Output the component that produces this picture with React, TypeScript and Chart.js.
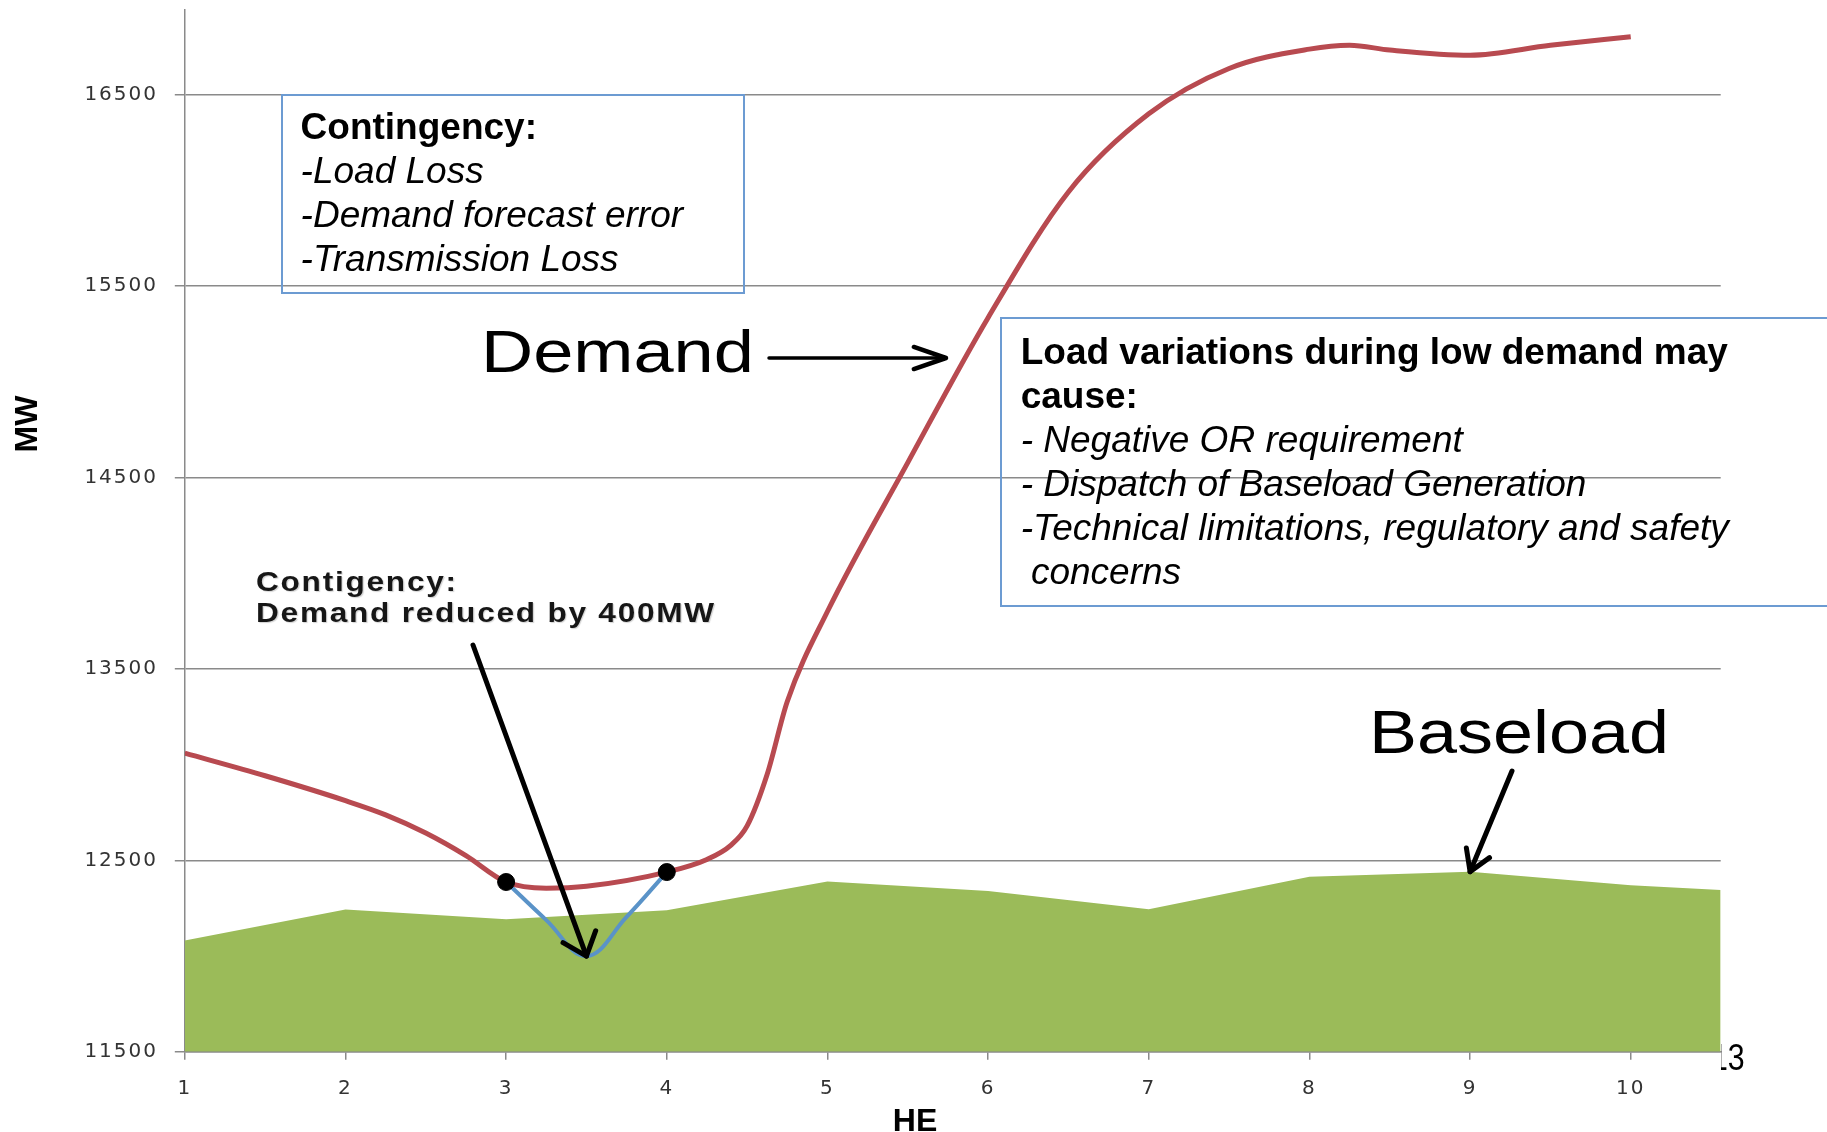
import React, { useEffect, useRef } from "react";
import { Chart, registerables } from "chart.js";

Chart.register(...registerables);

// ---- data ----
const hourTicks = [1, 2, 3, 4, 5, 6, 7, 8, 9, 10];
const mwTicks = [11500, 12500, 13500, 14500, 15500, 16500];

const demandHours = [1, 1.5, 2, 2.25, 2.5, 2.75, 3, 3.25, 3.5, 4, 4.25, 4.4, 4.5, 4.625, 4.75, 5, 5.5, 6, 6.5, 7, 7.5, 8, 8.25, 8.5, 9, 9.5, 10];
const demandMW = [13060, 12942, 12812, 12738, 12643, 12525, 12387, 12355, 12365, 12439, 12505, 12580, 12680, 12950, 13330, 13800, 14578, 15335, 15992, 16400, 16637, 16738, 16758, 16733, 16706, 16758, 16803];

const contingencyHours = [3, 3.25, 3.5, 3.75, 4];
const contingencyMW = [12387, 12188, 12000, 12205, 12439];

const baseloadHours = [1, 2, 3, 4, 5, 6, 7, 8, 9, 10, 10.56];
const baseloadMW = [12081, 12243, 12193, 12240, 12390, 12340, 12245, 12415, 12440, 12370, 12345];

const markerHours = [3, 4];
const markerMW = [12387, 12439];

const X_MIN = 1;
const X_MAX = 10.56;
const Y_MIN = 11500;
const Y_MAX = 16945;

const toPts = (xs: number[], ys: number[]) => xs.map((x, i) => ({ x, y: ys[i] }));

const GRID = "#8a8a8a";
const SANS = "'Liberation Sans', Arial, sans-serif";
const TICK_FONT = "'DejaVu Sans', Verdana, sans-serif";

function drawArrow(ctx: CanvasRenderingContext2D, x0: number, y0: number, x1: number, y1: number, w: number, headLen: number, headAng: number, headW?: number) {
  ctx.save();
  ctx.strokeStyle = "#000";
  ctx.lineCap = "round";
  ctx.lineJoin = "round";
  ctx.lineWidth = w;
  ctx.beginPath();
  ctx.moveTo(x0, y0);
  ctx.lineTo(x1, y1);
  ctx.stroke();
  const a = Math.atan2(y1 - y0, x1 - x0);
  ctx.lineWidth = headW || w;
  ctx.beginPath();
  ctx.moveTo(x1 - headLen * Math.cos(a - headAng), y1 - headLen * Math.sin(a - headAng));
  ctx.lineTo(x1, y1);
  ctx.lineTo(x1 - headLen * Math.cos(a + headAng), y1 - headLen * Math.sin(a + headAng));
  ctx.stroke();
  ctx.restore();
}

const arrowPlugin = {
  id: "annotArrows",
  afterDatasetsDraw(chart: any) {
    const { ctx } = chart;
    const xs = chart.scales.x;
    const ys = chart.scales.y;
    drawArrow(ctx, 473, 645, xs.getPixelForValue(3.5), ys.getPixelForValue(12000), 5, 27, 0.7);
    drawArrow(ctx, 769, 358, 946, 358, 3.5, 34, 0.33, 4.5);
    drawArrow(ctx, 1512, 771, xs.getPixelForValue(9), ys.getPixelForValue(12441), 5, 24, 0.55);
  },
};

const spacingPlugin = {
  id: "tickSpacing",
  beforeDraw(chart: any) {
    (chart.ctx as any).letterSpacing = "2px";
  },
  beforeDatasetsDraw(chart: any) {
    (chart.ctx as any).letterSpacing = "0px";
  },
};

const abs = (s: React.CSSProperties): React.CSSProperties => ({ position: "absolute", margin: 0, whiteSpace: "pre", ...s });

export default function App() {
  const ref = useRef<HTMLCanvasElement | null>(null);

  useEffect(() => {
    if (!ref.current) return;
    const chart = new Chart(ref.current, {
      type: "line",
      data: {
        datasets: [
          {
            label: "Markers",
            data: toPts(markerHours, markerMW),
            showLine: false,
            pointRadius: 8.5,
            pointBackgroundColor: "#000",
            pointBorderColor: "#000",
            order: 1,
          },
          {
            label: "Demand",
            data: toPts(demandHours, demandMW),
            borderColor: "#b84a50",
            borderWidth: 5,
            pointRadius: 0,
            cubicInterpolationMode: "monotone",
            fill: false,
            order: 2,
          },
          {
            label: "Contingency",
            data: toPts(contingencyHours, contingencyMW),
            borderColor: "#5a93c8",
            borderWidth: 4,
            pointRadius: 0,
            tension: 0.4,
            fill: false,
            order: 3,
          },
          {
            label: "Baseload",
            data: toPts(baseloadHours, baseloadMW),
            borderColor: "#9bbb59",
            borderWidth: 0,
            backgroundColor: "#9bbb59",
            pointRadius: 0,
            tension: 0,
            fill: "start",
            order: 4,
          },
        ],
      },
      options: {
        animation: false,
        responsive: false,
        events: [],
        layout: { padding: { top: 8, right: 1827 - 1720.7, left: 0, bottom: 0 } },
        plugins: { legend: { display: false }, tooltip: { enabled: false }, title: { display: false } },
        scales: {
          x: {
            type: "linear",
            min: X_MIN,
            max: X_MAX,
            afterBuildTicks: (s: any) => {
              s.ticks = hourTicks.map((v) => ({ value: v }));
            },
            afterFit: (s: any) => {
              s.height = 1132 - 1051.8;
              s.paddingLeft = 0;
              s.paddingRight = 0;
            },
            grid: { drawOnChartArea: false, drawTicks: true, tickLength: 8, color: GRID, lineWidth: 1.5 },
            border: { display: true, color: GRID, width: 1.5 },
            ticks: {
              padding: 17,
              color: "#333",
              font: { family: TICK_FONT, size: 20 },
              maxRotation: 0,
              autoSkip: false,
              callback: (v: any) => String(v),
            },
          },
          y: {
            type: "linear",
            min: Y_MIN,
            max: Y_MAX,
            afterBuildTicks: (s: any) => {
              s.ticks = mwTicks.map((v) => ({ value: v }));
            },
            afterFit: (s: any) => {
              s.width = 184.8;
              s.paddingTop = 0;
              s.paddingBottom = 0;
            },
            grid: { drawOnChartArea: true, drawTicks: true, tickLength: 10, color: GRID, lineWidth: 1.5 },
            border: { display: true, color: GRID, width: 1.5 },
            ticks: {
              padding: 16.8,
              color: "#333",
              font: { family: TICK_FONT, size: 20 },
              callback: (v: any) => String(v),
            },
          },
        },
      },
      plugins: [spacingPlugin, arrowPlugin],
    } as any);
    return () => chart.destroy();
  }, []);

  const boxBorder = "2px solid #6c9bd2";

  return (
    <div style={{ position: "absolute", left: 0, top: 0, width: 1827, height: 1132, overflow: "hidden", background: "#fff", fontFamily: SANS, color: "#000" }}>
      <canvas ref={ref} width={1827} height={1132} style={{ position: "absolute", left: 0, top: 0 }} />

      {/* Contingency box */}
      <div style={abs({ left: 281, top: 94, width: 464, height: 200, border: boxBorder, boxSizing: "border-box" })} />
      <div style={abs({ left: 300.6, top: 105.2, fontSize: 37, lineHeight: "44px" })}>
        <div style={{ fontWeight: "bold" }}>Contingency:</div>
        <div style={{ fontStyle: "italic" }}>-Load Loss</div>
        <div style={{ fontStyle: "italic" }}>-Demand forecast error</div>
        <div style={{ fontStyle: "italic" }}>-Transmission Loss</div>
      </div>

      {/* Load variations box */}
      <div style={abs({ left: 1000, top: 317, width: 900, height: 290, border: boxBorder, boxSizing: "border-box" })} />
      <div style={abs({ left: 1020.7, top: 329.9, fontSize: 37, lineHeight: "44px" })}>
        <div style={{ fontWeight: "bold" }}>Load variations during low demand may</div>
        <div style={{ fontWeight: "bold" }}>cause:</div>
        <div style={{ fontStyle: "italic" }}>- Negative OR requirement</div>
        <div style={{ fontStyle: "italic" }}>- Dispatch of Baseload Generation</div>
        <div style={{ fontStyle: "italic" }}>-Technical limitations, regulatory and safety</div>
        <div style={{ fontStyle: "italic" }}> concerns</div>
      </div>

      {/* Demand label */}
      <div style={abs({ left: 481, top: 323.3, fontSize: 58.7, lineHeight: 1, transform: "scaleX(1.23)", transformOrigin: "0 0" })}>Demand</div>

      {/* Baseload label */}
      <div style={abs({ left: 1369, top: 700.6, fontSize: 61.5, lineHeight: 1, transform: "scaleX(1.17)", transformOrigin: "0 0" })}>Baseload</div>

      {/* Contigency label */}
      <div style={abs({ left: 256, top: 567, fontSize: 27, lineHeight: "31px", fontWeight: "bold", letterSpacing: "1.5px", color: "#161616", transform: "scaleX(1.17)", transformOrigin: "0 0", textShadow: "1px 1px 1px rgba(0,0,0,0.18)" })}>
        <div>Contigency:</div>
        <div>Demand reduced by 400MW</div>
      </div>

      {/* axis titles */}
      <div style={abs({ left: -24, top: 408, width: 100, textAlign: "center", fontSize: 32, lineHeight: "32px", fontWeight: "bold", transform: "rotate(-90deg)", transformOrigin: "50% 50%" })}>MW</div>
      <div style={abs({ left: 865, top: 1104, width: 100, textAlign: "center", fontSize: 32, lineHeight: 1, fontWeight: "bold" })}>HE</div>

      {/* slide number */}
      <div style={abs({ left: 1721, top: 1030, width: 80, height: 50, overflow: "hidden" })}>
        <div style={abs({ left: -10, top: 8.7, fontSize: 37, lineHeight: 1, transform: "scaleX(0.82)", transformOrigin: "0 0" })}>13</div>
      </div>
    </div>
  );
}
